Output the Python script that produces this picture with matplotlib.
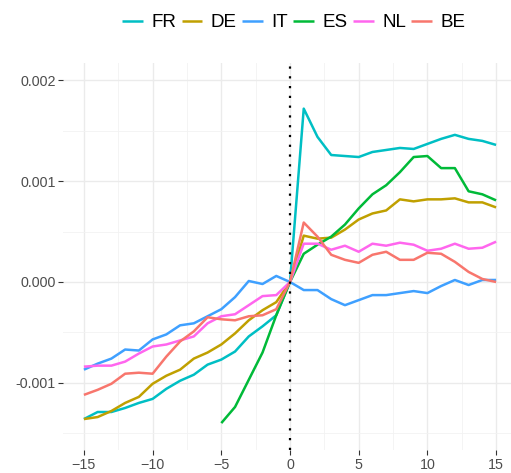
import matplotlib
matplotlib.use("Agg")
import matplotlib.pyplot as plt
import numpy as np

plt.rcParams['font.family'] = ['Liberation Sans', 'DejaVu Sans']

# event time, -15 .. 15
t = np.arange(-15, 16)

# values in units of 1e-3
fr = [-1.36, -1.29, -1.29, -1.25, -1.20, -1.16, -1.06, -0.98, -0.92, -0.82, -0.77, -0.69, -0.54, -0.44, -0.33,
      0.0, 1.72, 1.44, 1.26, 1.25, 1.24, 1.29, 1.31, 1.33, 1.32, 1.37, 1.42, 1.46, 1.42, 1.40, 1.36]
de = [-1.36, -1.34, -1.28, -1.20, -1.14, -1.01, -0.93, -0.87, -0.76, -0.70, -0.62, -0.51, -0.38, -0.28, -0.20,
      0.0, 0.46, 0.43, 0.44, 0.52, 0.62, 0.68, 0.71, 0.82, 0.80, 0.82, 0.82, 0.83, 0.79, 0.79, 0.74]
it = [-0.87, -0.81, -0.76, -0.67, -0.68, -0.57, -0.52, -0.43, -0.41, -0.34, -0.27, -0.15, 0.01, -0.02, 0.06,
      0.0, -0.08, -0.08, -0.17, -0.23, -0.18, -0.13, -0.13, -0.11, -0.09, -0.11, -0.04, 0.02, -0.03, 0.02, 0.02]
es = [np.nan] * 10 + [-1.40, -1.24, -0.97, -0.70, -0.33,
      0.0, 0.28, 0.37, 0.45, 0.57, 0.73, 0.87, 0.96, 1.09, 1.24, 1.25, 1.13, 1.13, 0.90, 0.87, 0.81]
nl = [-0.84, -0.83, -0.83, -0.79, -0.71, -0.64, -0.62, -0.58, -0.54, -0.41, -0.34, -0.32, -0.23, -0.14, -0.13,
      0.0, 0.38, 0.38, 0.32, 0.36, 0.30, 0.38, 0.36, 0.39, 0.37, 0.31, 0.33, 0.38, 0.33, 0.34, 0.40]
be = [-1.12, -1.07, -1.01, -0.91, -0.90, -0.91, -0.74, -0.59, -0.49, -0.35, -0.37, -0.38, -0.34, -0.33, -0.27,
      0.0, 0.59, 0.45, 0.27, 0.22, 0.19, 0.27, 0.30, 0.22, 0.22, 0.29, 0.28, 0.20, 0.10, 0.03, 0.0]

names = ["FR", "DE", "IT", "ES", "NL", "BE"]
series = [fr, de, it, es, nl, be]
colors = ["#00BFC4", "#C0A000", "#3FA0FF", "#00BA38", "#FF66EE", "#F8766D"]

fig = plt.figure(figsize=(5.11, 4.73), dpi=100)
# panel runs a little past the right edge, like the original
ax = fig.add_axes([63.3 / 511, 23 / 473, 453.4 / 511, 386.7 / 473])

for name, vals, c in zip(names, series, colors):
    ax.plot(t, np.array(vals) * 1e-3, color=c, lw=1.8, label=name, solid_capstyle="butt")

# dotted line at event date
ax.axvline(0, color="black", lw=1.6, linestyle=(0, (1.0, 3.4)), dash_capstyle="butt", zorder=5)

ax.set_xlim(-16.5, 16.5)
ax.set_ylim(-0.001667, 0.00217)
ax.set_xticks([-15, -10, -5, 0, 5, 10, 15])
ax.set_xticks([-12.5, -7.5, -2.5, 2.5, 7.5, 12.5], minor=True)
ax.set_yticks([-0.001, 0, 0.001, 0.002])
ax.set_yticklabels(["-0.001", "0.000", "0.001", "0.002"])
ax.set_yticks([-0.0015, -0.0005, 0.0005, 0.0015], minor=True)

ax.grid(which="major", color="#ebebeb", lw=1.0)
ax.grid(which="minor", color="#f2f2f2", lw=0.6)
ax.set_axisbelow(True)
for s in ax.spines.values():
    s.set_visible(False)
ax.tick_params(which="major", length=3.5, width=0.8, color="#333333",
               labelsize=10.3, labelcolor="#4d4d4d", pad=2)
ax.tick_params(which="minor", length=0)

fig.legend(loc="center", bbox_to_anchor=(294 / 511, 1 - 22.7 / 473), ncol=6, frameon=False,
           fontsize=13.5, handlelength=1.1, handletextpad=0.45, columnspacing=0.29,
           borderpad=0, borderaxespad=0)

fig.savefig("out.png", dpi=100)
